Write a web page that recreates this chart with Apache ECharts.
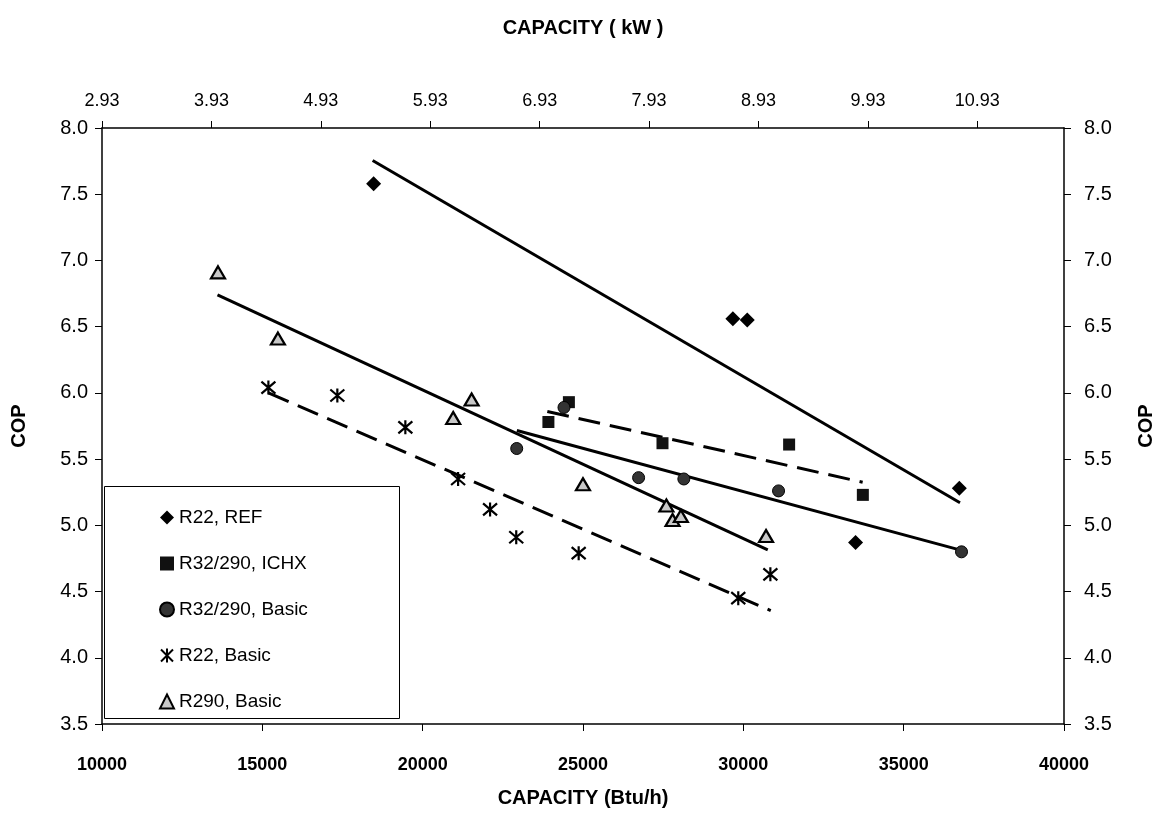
<!DOCTYPE html>
<html>
<head>
<meta charset="utf-8">
<script src="https://cdn.jsdelivr.net/npm/echarts@6/dist/echarts.min.js"></script>
<style>
  html, body { margin: 0; padding: 0; background: #fff; }
  #chart { width: 1164px; height: 817px; }
</style>
</head>
<body>
<div id="chart"></div>
<script>
// 单位换算 Btu/h -> kW
const BTU_PER_KW = 3412.14;

// R22, REF
const r22RefCap = [18470, 29674, 30123, 33500, 36736];
const r22RefCop = [7.58, 6.56, 6.55, 4.87, 5.28];

// R32/290, ICHX
const ichxCap = [23921, 24560, 27479, 31428, 33727];
const ichxCop = [5.78, 5.93, 5.62, 5.61, 5.23];

// R32/290, Basic
const r32BasicCap = [22933, 24407, 26734, 28145, 31098, 36804];
const r32BasicCop = [5.58, 5.89, 5.36, 5.35, 5.26, 4.80];

// R22, Basic
const r22BasicCap = [15189, 17339, 19460, 21105, 22102, 22918, 24865, 29842, 30843];
const r22BasicCop = [6.04, 5.98, 5.74, 5.35, 5.12, 4.91, 4.79, 4.45, 4.63];

// R290, Basic
const r290Cap = [13617, 15486, 20952, 21526, 24999, 27600, 27793, 28052, 30708];
const r290Cop = [6.91, 6.41, 5.81, 5.95, 5.31, 5.15, 5.04, 5.07, 4.92];

// 趋势线（起点、终点）
const refTrend = [[18440, 7.755], [36757, 5.17]];
const ichxTrend = [[23887, 5.86], [33721, 5.325]];
const r32Trend = [[22937, 5.716], [36804, 4.811]];
const r22Trend = [[15190, 6.00], [30855, 4.356]];
const r290Trend = [[13601, 6.74], [30762, 4.814]];

const legendNames = ['R22, REF', 'R32/290, ICHX', 'R32/290, Basic', 'R22, Basic', 'R290, Basic'];

const zip = (xs, ys) => xs.map((x, i) => [x, ys[i]]);
const FONT = 'Liberation Sans';
const STAR = 'path://M0,0L12,12M12,0L0,12M6,-1L6,13';

const chart = echarts.init(document.getElementById('chart'));

const axisLine = { show: true, lineStyle: { color: '#000', width: 1.5 } };
const axisTick = { show: true, length: 7, lineStyle: { color: '#000', width: 1 } };

const trendLine = (data, dashed) => ({
  type: 'line',
  data,
  symbol: 'none',
  silent: true,
  z: 1,
  lineStyle: { color: '#000', width: 3, type: dashed ? [22, 10] : 'solid' }
});

const option = {
  animation: false,
  textStyle: { fontFamily: FONT, color: '#000' },
  grid: { left: 102, right: 99, top: 128, bottom: 93, containLabel: false },
  legend: {
    data: legendNames,
    orient: 'vertical',
    left: 154,
    top: 503,
    itemWidth: 14,
    itemHeight: 14,
    itemGap: 27,
    textStyle: { fontSize: 19, fontFamily: FONT, color: '#000', lineHeight: 19 }
  },
  graphic: [{
    type: 'rect',
    left: 104,
    top: 486,
    shape: { width: 295, height: 232 },
    style: { fill: '#fff', stroke: '#000', lineWidth: 1 },
    z: 0
  }],
  xAxis: [{
    type: 'value',
    position: 'bottom',
    min: 10000,
    max: 40000,
    interval: 5000,
    axisLine, axisTick,
    splitLine: { show: false },
    axisLabel: { fontSize: 18, fontWeight: 'bold', margin: 32, color: '#000', formatter: v => String(v) },
    name: 'CAPACITY (Btu/h)',
    nameLocation: 'middle',
    nameGap: 64,
    nameTextStyle: { fontSize: 20, fontWeight: 'bold', color: '#000' }
  }, {
    type: 'value',
    position: 'top',
    min: 10000,
    max: 40000,
    interval: BTU_PER_KW,
    axisLine, axisTick,
    splitLine: { show: false },
    axisLabel: {
      fontSize: 18, margin: 18, color: '#000', showMaxLabel: false,
      formatter: v => (v / BTU_PER_KW).toFixed(2)
    },
    name: 'CAPACITY ( kW )',
    nameLocation: 'middle',
    nameGap: 90,
    nameTextStyle: { fontSize: 20, fontWeight: 'bold', color: '#000' }
  }],
  yAxis: [{
    type: 'value',
    position: 'left',
    min: 3.5,
    max: 8,
    interval: 0.5,
    axisLine, axisTick,
    splitLine: { show: false },
    axisLabel: { fontSize: 20, margin: 14, color: '#000', formatter: v => v.toFixed(1) },
    name: 'COP',
    nameLocation: 'middle',
    nameRotate: 90,
    nameGap: 73,
    nameTextStyle: { fontSize: 20, fontWeight: 'bold', color: '#000' }
  }, {
    type: 'value',
    position: 'right',
    min: 3.5,
    max: 8,
    interval: 0.5,
    axisLine, axisTick,
    splitLine: { show: false },
    axisLabel: { fontSize: 20, margin: 20, color: '#000', formatter: v => v.toFixed(1) },
    name: 'COP',
    nameLocation: 'middle',
    nameRotate: 90,
    nameGap: 72,
    nameTextStyle: { fontSize: 20, fontWeight: 'bold', color: '#000' }
  }],
  series: [
    trendLine(refTrend, false),
    trendLine(ichxTrend, true),
    trendLine(r32Trend, false),
    trendLine(r22Trend, true),
    trendLine(r290Trend, false),
    {
      name: legendNames[0], type: 'scatter', z: 3,
      data: zip(r22RefCap, r22RefCop),
      symbol: 'diamond', symbolSize: 15,
      itemStyle: { color: '#000', opacity: 1 }
    },
    {
      name: legendNames[1], type: 'scatter', z: 3,
      data: zip(ichxCap, ichxCop),
      symbol: 'rect', symbolSize: 12,
      itemStyle: { color: '#111', opacity: 1 }
    },
    {
      name: legendNames[2], type: 'scatter', z: 3,
      data: zip(r32BasicCap, r32BasicCop),
      symbol: 'circle', symbolSize: 12,
      itemStyle: { color: '#333', borderColor: '#000', borderWidth: 1, opacity: 1 }
    },
    {
      name: legendNames[3], type: 'scatter', z: 3,
      data: zip(r22BasicCap, r22BasicCop),
      symbol: STAR, symbolSize: 14,
      itemStyle: { color: 'rgba(0,0,0,0)', borderColor: '#000', borderWidth: 2.2, opacity: 1 }
    },
    {
      name: legendNames[4], type: 'scatter', z: 3,
      data: zip(r290Cap, r290Cop),
      symbol: 'triangle', symbolSize: [14, 12],
      itemStyle: { color: '#c8c8c8', borderColor: '#000', borderWidth: 2.2, opacity: 1 }
    }
  ]
};

chart.setOption(option);
</script>
</body>
</html>
